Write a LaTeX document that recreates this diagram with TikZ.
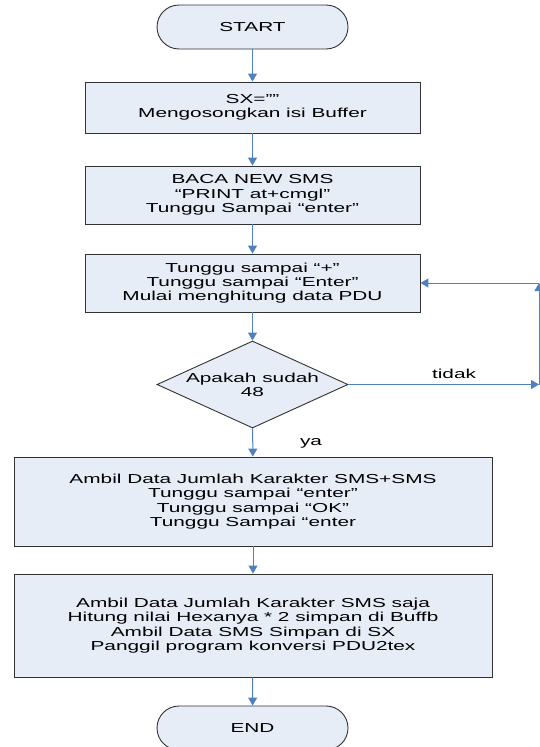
\documentclass[tikz,border=0pt]{standalone}
\usepackage{fontspec}
\setmainfont{Liberation Sans}[FakeStretch=1.6]
\usetikzlibrary{shapes.geometric,arrows.meta}
\definecolor{boxfill}{RGB}{230,237,247}
\definecolor{flowblue}{RGB}{79,129,189}
\definecolor{edgegray}{RGB}{50,50,50}
\tikzset{
  base/.style={draw=edgegray, line width=0.9pt, fill=boxfill, inner sep=0pt,
    align=center, font=\fontsize{13}{14.3}\selectfont},
  terminal/.style={base, rectangle, rounded corners=22pt,
    minimum width=191pt, minimum height=44pt},
  process/.style={base, rectangle},
  decision/.style={base, diamond, minimum width=191pt, minimum height=87pt, aspect=2.2},
  flow/.style={draw=flowblue, line width=1pt,
    -{Triangle[length=8pt,width=9pt]}, color=flowblue},
  tag/.style={font=\fontsize{13}{14.3}\selectfont, inner sep=0pt}
}
\begin{document}
\begin{tikzpicture}[x=1pt,y=-1pt]
\useasboundingbox (0,0) rectangle (540,747);

\node[terminal] (start) at (252.5,27) {START};
\node[process, minimum width=335pt, minimum height=51pt] (b1) at (252.5,107.5)
  {SX=””\\Mengosongkan isi Buffer};
\node[process, minimum width=335pt, minimum height=58pt] (b2) at (252.5,195)
  {BACA NEW SMS\\“PRINT at+cmgl”\\Tunggu Sampai “enter”};
\node[process, minimum width=335pt, minimum height=58pt] (b3) at (252.5,283)
  {Tunggu sampai “+”\\Tunggu sampai “Enter”\\Mulai menghitung data PDU};
\node[decision, label={[tag, align=center]center:{Apakah sudah\\48}}] (dec) at (252.5,384.5) {};
\node[process, minimum width=478pt, minimum height=89pt] (b4) at (253,501.5)
  {Ambil Data Jumlah Karakter SMS+SMS\\Tunggu sampai “enter”\\Tunggu sampai “OK”\\Tunggu Sampai “enter};
\node[process, minimum width=478pt, minimum height=103pt] (b5) at (253,625.5)
  {Ambil Data Jumlah Karakter SMS saja\\Hitung nilai Hexanya * 2 simpan di Buffb\\Ambil Data SMS Simpan di SX\\Panggil program konversi PDU2tex};
\node[terminal] (end) at (252.5,728) {END};

% loop-back corners on the right
\coordinate (c1) at (539,384.5);
\coordinate (c2) at (539,283);

\draw[flow] (start) -- (b1);
\draw[flow] (b1) -- (b2);
\draw[flow] (b2) -- (b3);
\draw[flow] (b3) -- (dec);
\draw[flow] (dec) -- (b4);
\draw[flow] (b4) -- (b5);
\draw[flow] (b5) -- (end);

\draw[flow] (dec.east) -- (c1);
\draw[flow] (c1) -- (c2);
\draw[flow] (c2) -- (b3.east);

\node[tag] (tidak) at (454,374) {tidak};
\node[tag] (ya) at (311,443) {ya};
\end{tikzpicture}
\end{document}
